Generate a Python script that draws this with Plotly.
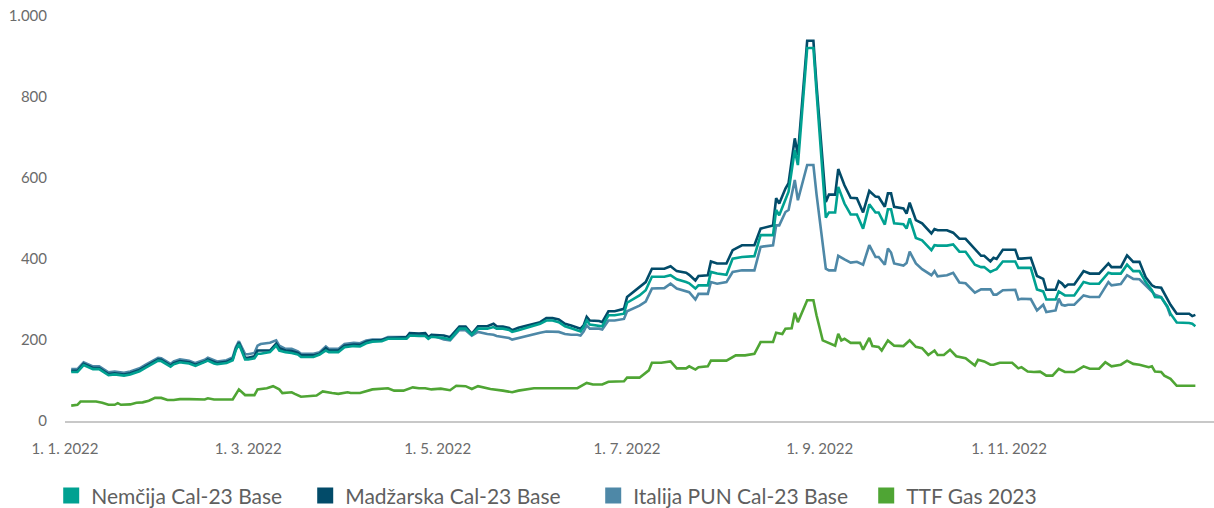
import plotly.graph_objects as go

# ---------------- data ----------------
power_dates = [
    "2022-01-03", "2022-01-05", "2022-01-07", "2022-01-08", "2022-01-10", "2022-01-12", "2022-01-15",
    "2022-01-17", "2022-01-20", "2022-01-22", "2022-01-24", "2022-01-25", "2022-01-27", "2022-01-29",
    "2022-01-31", "2022-02-01", "2022-02-03", "2022-02-04", "2022-02-05", "2022-02-07", "2022-02-08",
    "2022-02-10", "2022-02-12", "2022-02-14", "2022-02-15", "2022-02-16", "2022-02-18", "2022-02-19",
    "2022-02-22", "2022-02-24", "2022-02-25", "2022-02-26", "2022-02-28", "2022-03-01", "2022-03-03",
    "2022-03-04", "2022-03-05", "2022-03-08", "2022-03-10", "2022-03-11", "2022-03-13", "2022-03-15",
    "2022-03-17", "2022-03-18", "2022-03-22", "2022-03-24", "2022-03-26", "2022-03-27", "2022-03-30",
    "2022-04-01", "2022-04-04", "2022-04-06", "2022-04-08", "2022-04-10", "2022-04-13", "2022-04-15",
    "2022-04-21", "2022-04-22", "2022-04-25", "2022-04-27", "2022-04-28", "2022-04-29", "2022-05-03",
    "2022-05-05", "2022-05-08", "2022-05-10", "2022-05-12", "2022-05-14", "2022-05-17", "2022-05-19",
    "2022-05-20", "2022-05-22", "2022-05-24", "2022-05-25", "2022-05-27", "2022-05-31", "2022-06-03",
    "2022-06-05", "2022-06-07", "2022-06-09", "2022-06-11", "2022-06-13", "2022-06-15", "2022-06-16",
    "2022-06-17", "2022-06-18", "2022-06-19", "2022-06-22", "2022-06-23", "2022-06-25", "2022-06-27",
    "2022-06-30", "2022-07-01", "2022-07-05", "2022-07-07", "2022-07-09", "2022-07-13", "2022-07-15",
    "2022-07-17", "2022-07-20", "2022-07-21", "2022-07-23", "2022-07-24", "2022-07-27", "2022-07-28",
    "2022-07-30", "2022-08-02", "2022-08-04", "2022-08-07", "2022-08-11", "2022-08-13", "2022-08-17",
    "2022-08-18", "2022-08-19", "2022-08-21", "2022-08-22", "2022-08-24", "2022-08-25", "2022-08-28",
    "2022-08-30", "2022-08-31", "2022-09-03", "2022-09-04", "2022-09-06", "2022-09-07", "2022-09-09",
    "2022-09-11", "2022-09-13", "2022-09-15", "2022-09-17", "2022-09-19", "2022-09-20", "2022-09-22",
    "2022-09-23", "2022-09-24", "2022-09-25", "2022-09-28", "2022-09-29", "2022-09-30", "2022-10-02",
    "2022-10-04", "2022-10-07", "2022-10-08", "2022-10-09", "2022-10-12", "2022-10-14", "2022-10-16",
    "2022-10-18", "2022-10-21", "2022-10-23", "2022-10-24", "2022-10-26", "2022-10-27", "2022-10-28",
    "2022-10-30", "2022-11-03", "2022-11-04", "2022-11-05", "2022-11-08", "2022-11-10", "2022-11-12",
    "2022-11-13", "2022-11-16", "2022-11-17", "2022-11-18", "2022-11-19", "2022-11-20", "2022-11-22",
    "2022-11-25", "2022-11-27", "2022-11-30", "2022-12-03", "2022-12-04", "2022-12-07", "2022-12-09",
    "2022-12-11", "2022-12-13", "2022-12-15", "2022-12-17", "2022-12-18", "2022-12-20", "2022-12-22",
    "2022-12-23", "2022-12-25", "2022-12-29", "2022-12-30", "2022-12-31",
]

nemcija = [
    121, 121, 138, 134, 128, 128, 113, 115, 112, 115, 121, 123, 132, 140,
    149, 148, 138, 134, 140, 145, 144, 142, 136, 142, 144, 149, 142, 140,
    143, 150, 175, 190, 152, 152, 155, 166, 166, 170, 186, 174, 170, 168,
    164, 158, 158, 164, 174, 170, 170, 182, 185, 184, 192, 196, 197, 203,
    203, 211, 210, 210, 203, 208, 205, 201, 228, 228, 213, 228, 228, 232,
    228, 228, 225, 220, 224, 233, 240, 248, 248, 244, 234, 229, 224, 221,
    232, 248, 238, 236, 234, 261, 261, 265, 292, 310, 323, 356, 356, 360,
    350, 343, 340, 327, 335, 335, 368, 364, 361, 401, 405, 407, 459, 459,
    521, 508, 550, 566, 669, 632, 921, 921, 813, 502, 515, 515, 578, 537,
    510, 510, 475, 535, 515, 515, 485, 523, 523, 488, 486, 475, 500, 452,
    446, 422, 434, 433, 433, 436, 418, 418, 386, 380, 380, 368, 372, 375,
    394, 394, 378, 378, 378, 325, 320, 300, 300, 320, 315, 310, 310, 310,
    343, 339, 339, 366, 364, 364, 386, 370, 370, 343, 323, 306, 305, 283,
    265, 243, 242, 240, 234,
]

madzarska = [
    124, 124, 141, 137, 131, 131, 116, 118, 115, 118, 124, 126, 135, 143,
    152, 151, 141, 137, 143, 148, 147, 145, 139, 145, 147, 152, 145, 143,
    146, 153, 178, 193, 156, 156, 160, 174, 174, 174, 191, 180, 174, 173,
    168, 162, 162, 166, 180, 174, 174, 186, 189, 188, 196, 199, 200, 205,
    207, 217, 216, 217, 207, 213, 211, 207, 233, 233, 215, 234, 234, 240,
    234, 233, 230, 224, 230, 238, 244, 254, 254, 251, 240, 236, 230, 228,
    236, 257, 248, 247, 244, 271, 271, 277, 306, 331, 343, 376, 376, 382,
    370, 366, 361, 347, 358, 360, 394, 389, 389, 422, 434, 434, 475, 483,
    550, 537, 574, 587, 698, 657, 939, 939, 830, 541, 559, 559, 622, 582,
    551, 550, 515, 568, 554, 553, 529, 562, 562, 529, 525, 512, 539, 496,
    488, 463, 474, 471, 471, 465, 450, 450, 426, 408, 408, 394, 403, 400,
    423, 423, 401, 401, 403, 358, 351, 324, 324, 345, 340, 331, 337, 337,
    370, 364, 364, 389, 380, 380, 409, 393, 393, 355, 335, 331, 329, 302,
    287, 265, 265, 259, 262,
]

italija = [
    128, 128, 145, 141, 135, 135, 120, 122, 119, 122, 128, 130, 139, 147,
    156, 155, 145, 141, 147, 152, 151, 149, 143, 149, 151, 156, 149, 147,
    150, 157, 182, 197, 165, 165, 168, 186, 190, 193, 199, 186, 178, 178,
    172, 166, 166, 170, 184, 178, 178, 190, 193, 192, 199, 201, 201, 207,
    207, 215, 213, 213, 206, 212, 201, 199, 225, 224, 211, 220, 215, 213,
    210, 207, 205, 201, 205, 213, 218, 221, 221, 220, 215, 213, 213, 211,
    221, 236, 228, 228, 226, 248, 248, 252, 271, 285, 295, 327, 328, 339,
    327, 319, 318, 300, 314, 314, 343, 339, 343, 368, 372, 372, 430, 434,
    483, 483, 516, 521, 595, 545, 632, 632, 560, 376, 372, 372, 408, 399,
    391, 393, 386, 434, 405, 405, 386, 426, 416, 389, 384, 390, 418, 389,
    375, 360, 370, 357, 360, 366, 342, 340, 317, 325, 325, 325, 312, 312,
    323, 324, 300, 302, 301, 273, 287, 269, 273, 302, 287, 285, 287, 287,
    310, 306, 306, 343, 335, 338, 360, 351, 350, 335, 320, 312, 306, 281,
    259, None, None, None, None,
]

gas_dates = [
    "2022-01-03", "2022-01-05", "2022-01-06", "2022-01-11", "2022-01-13", "2022-01-15", "2022-01-17",
    "2022-01-18", "2022-01-19", "2022-01-22", "2022-01-24", "2022-01-26", "2022-01-28", "2022-01-30",
    "2022-02-01", "2022-02-03", "2022-02-05", "2022-02-07", "2022-02-10", "2022-02-12", "2022-02-15",
    "2022-02-16", "2022-02-18", "2022-02-24", "2022-02-25", "2022-02-26", "2022-02-28", "2022-03-03",
    "2022-03-04", "2022-03-07", "2022-03-09", "2022-03-11", "2022-03-12", "2022-03-15", "2022-03-16",
    "2022-03-18", "2022-03-23", "2022-03-25", "2022-03-28", "2022-03-30", "2022-04-02", "2022-04-03",
    "2022-04-06", "2022-04-09", "2022-04-10", "2022-04-15", "2022-04-17", "2022-04-20", "2022-04-23",
    "2022-04-25", "2022-04-27", "2022-04-29", "2022-05-02", "2022-05-05", "2022-05-07", "2022-05-10",
    "2022-05-12", "2022-05-14", "2022-05-18", "2022-05-22", "2022-05-25", "2022-05-27", "2022-06-01",
    "2022-06-15", "2022-06-18", "2022-06-20", "2022-06-23", "2022-06-25", "2022-06-30", "2022-07-01",
    "2022-07-05", "2022-07-08", "2022-07-09", "2022-07-12", "2022-07-15", "2022-07-17", "2022-07-20",
    "2022-07-21", "2022-07-23", "2022-07-24", "2022-07-27", "2022-07-28", "2022-08-02", "2022-08-05",
    "2022-08-08", "2022-08-11", "2022-08-13", "2022-08-17", "2022-08-18", "2022-08-20", "2022-08-21",
    "2022-08-23", "2022-08-24", "2022-08-25", "2022-08-28", "2022-08-30", "2022-08-31", "2022-09-02",
    "2022-09-04", "2022-09-06", "2022-09-07", "2022-09-08", "2022-09-09", "2022-09-11", "2022-09-14",
    "2022-09-15", "2022-09-17", "2022-09-18", "2022-09-20", "2022-09-21", "2022-09-23", "2022-09-25",
    "2022-09-28", "2022-09-30", "2022-10-02", "2022-10-04", "2022-10-06", "2022-10-08", "2022-10-09",
    "2022-10-11", "2022-10-13", "2022-10-15", "2022-10-18", "2022-10-21", "2022-10-22", "2022-10-24",
    "2022-10-26", "2022-10-27", "2022-10-29", "2022-11-02", "2022-11-04", "2022-11-05", "2022-11-07",
    "2022-11-09", "2022-11-11", "2022-11-13", "2022-11-15", "2022-11-17", "2022-11-19", "2022-11-22",
    "2022-11-25", "2022-11-27", "2022-11-30", "2022-12-02", "2022-12-04", "2022-12-07", "2022-12-09",
    "2022-12-11", "2022-12-13", "2022-12-16", "2022-12-17", "2022-12-18", "2022-12-20", "2022-12-21",
    "2022-12-23", "2022-12-25", "2022-12-31",
]

ttf_gas = [
    38, 40, 48, 48, 45, 40, 40,
    44, 40, 41, 45, 46, 50, 57,
    57, 52, 52, 54, 54, 53, 53,
    56, 53, 53, 67, 78, 64, 64,
    78, 81, 86, 78, 69, 71, 67,
    60, 63, 73, 69, 67, 71, 69,
    69, 75, 78, 81, 75, 75, 83,
    81, 81, 78, 80, 76, 87, 86,
    79, 86, 79, 75, 71, 75, 81,
    81, 94, 90, 90, 97, 98, 107,
    107, 125, 144, 144, 147, 130, 130,
    135, 127, 133, 135, 149, 149, 162,
    162, 166, 195, 195, 218, 215, 228,
    229, 267, 244, 298, 298, 261, 199,
    193, 186, 215, 199, 203, 193, 193,
    176, 205, 185, 183, 174, 199, 186,
    185, 199, 183, 180, 163, 174, 163,
    163, 176, 160, 155, 137, 151, 147,
    139, 139, 144, 144, 130, 133, 122,
    121, 122, 112, 112, 129, 121, 121,
    135, 129, 129, 145, 135, 139, 149,
    141, 139, 133, 135, 122, 121, 112,
    104, 87, 87,
]

series_names = ["Nemčija Cal-23 Base", "Madžarska Cal-23 Base", "Italija PUN Cal-23 Base", "TTF Gas 2023"]
series_colors = ["#00A191", "#024B69", "#4E88A7", "#4FA534"]
legend_widths = [209, 243, 228, 140]
y_ticks = [0, 200, 400, 600, 800, 1000]

# ---------------- figure ----------------
fig = go.Figure()

draw_order = [
    (power_dates, italija, 2),
    (power_dates, madzarska, 1),
    (power_dates, nemcija, 0),
    (gas_dates, ttf_gas, 3),
]
for xs, ys, idx in draw_order:
    fig.add_trace(go.Scatter(
        x=xs, y=ys, mode="lines", name=series_names[idx],
        line=dict(color=series_colors[idx], width=2.6),
        showlegend=False, connectgaps=False,
    ))

# legend entries (square swatches)
for name, color, lw in zip(series_names, series_colors, legend_widths):
    fig.add_trace(go.Scatter(
        x=[None], y=[None], mode="markers", name=name,
        marker=dict(symbol="square", size=16, color=color),
        showlegend=True, legendwidth=lw,
    ))

fig.update_layout(
    width=1214, height=508,
    margin=dict(l=65, r=0, t=16, b=87, autoexpand=False),
    paper_bgcolor="white", plot_bgcolor="white",
    separators=",.",
    font=dict(family="Lato, 'Open Sans', sans-serif", color="#666666"),
    showlegend=True,
    legend=dict(
        orientation="h", x=-0.012, xanchor="left", y=-0.185, yanchor="middle",
        font=dict(family="Lato, 'Open Sans', sans-serif", size=21, color="#5F5F5F"),
        traceorder="normal", itemsizing="trace",
    ),
    xaxis=dict(
        type="date",
        range=["2022-01-01", "2023-01-06"],
        tick0="2022-01-01", dtick="M2",
        tickformat="%-d. %-m. %Y",
        showgrid=False, zeroline=False,
        showline=True, linecolor="#C8C8C8", linewidth=1.5,
        ticks="", ticklabelstandoff=13, automargin=False,
        tickfont=dict(size=15, color="#6B6B6B"),
    ),
    yaxis=dict(
        range=[0, 1000],
        tickvals=y_ticks,
        tickformat=",d",
        showgrid=False, zeroline=False, showline=False,
        ticks="", ticklabelstandoff=17, automargin=False,
        tickfont=dict(size=15, color="#6B6B6B"),
    ),
)

fig.write_html(
    "out.html",
    config={"displayModeBar": False},
    post_script="document.body.style.margin='0px';document.body.style.overflow='hidden';",
)
